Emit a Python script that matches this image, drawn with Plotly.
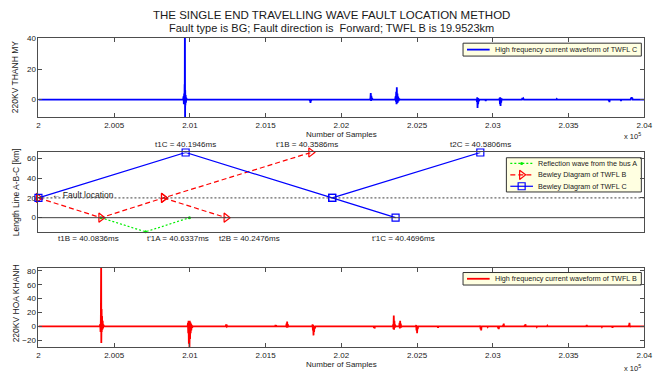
import numpy as np
import plotly.graph_objects as go

# ---------------- data ----------------
# High frequency current at TWFL C (220KV THANH MY): sample index and amplitude
twfl_c_samples = [
    200000, 200955, 200958, 200960, 200962, 200964, 200965, 200966, 200967, 200968,
    200969, 200970, 200972, 200974, 200976, 200980,
    201790, 201792, 201794, 201796, 201798, 201800, 201803,
    202190, 202192, 202194, 202196, 202198, 202200, 202203, 202206,
    202355, 202358, 202360, 202362, 202364, 202366, 202368, 202370, 202372, 202375,
    202378, 202382, 202386,
    202893, 202895, 202897, 202899, 202901, 202903, 202905, 202908, 202912,
    202950, 202953, 202956,
    203043, 203045, 203047, 203049, 203051, 203053, 203055, 203058, 203062,
    203192, 203195, 203198, 203201, 203205,
    203419, 203422, 203425,
    203764, 203766, 203768, 203770, 203772,
    203843, 203846, 203849,
    203910, 203912, 203914, 203916, 203918, 203920, 203924,
    204000,
]
twfl_c_current = [
    0, 0, 2, -3, 4, -2, 10, -2, 70, -20,
    6, -4, 3, -2, 1, 0,
    0, -1, 0.5, -2.2, 0.3, -1, 0,
    0, 1, 4.3, -1, 2.5, -0.5, 1, 0,
    0, 2, -1.5, 5, -3, 8, -2.5, 4, -2, 2,
    -1, 0.5, 0,
    0, -1.5, 1.5, -5.6, 1, -3, 0.5, -1, 0,
    0, -1, 0,
    0, 1, -3, 1.5, -4.3, 1, -2, 0.5, 0,
    0, 1, 0.5, 0.8, 0,
    0, 0.4, 0,
    0, -1, 0.3, -1.7, 0,
    0, -1, 0,
    0, 1, 0.3, 1.5, 0.5, 1.2, 0,
    0,
]

# High frequency current at TWFL B (220KV HOA KHANH)
twfl_b_samples = [
    200000, 200405, 200408, 200410, 200412, 200414, 200415, 200417, 200418, 200420,
    200422, 200424, 200426, 200429, 200433,
    200985, 200987, 200989, 200991, 200993, 200995, 200997, 200999, 201001, 201003,
    201005, 201007, 201009, 201012, 201015, 201018,
    201237, 201239, 201241, 201243, 201245, 201248,
    201563, 201565, 201567, 201569, 201572,
    201636, 201638, 201640, 201642, 201644, 201646, 201649,
    201808, 201810, 201812, 201814, 201816, 201818, 201820, 201822, 201825, 201829,
    202213, 202215, 202217, 202219, 202222,
    202340, 202342, 202344, 202346, 202348, 202350, 202352, 202355, 202359,
    202382, 202384, 202386, 202388, 202390, 202392, 202395, 202399,
    202492, 202494, 202496, 202498, 202500, 202502, 202504, 202507,
    202636, 202638, 202641,
    202915, 202917, 202919, 202921, 202923, 202925, 202928,
    202963, 202966, 202969,
    203033, 203035, 203037, 203039, 203042,
    203066, 203068, 203070, 203072, 203074, 203077,
    203209, 203211, 203213, 203215, 203218,
    203287, 203290, 203293,
    203357, 203360, 203363,
    203617, 203620, 203623,
    203717, 203720, 203723,
    203787, 203790, 203793,
    203896, 203898, 203900, 203902, 203904, 203906, 203909,
    204000,
]
twfl_b_current = [
    0, 0, 3, -8, 10, 95, -24, 25, -8, 15,
    -5, 8, -3, 2, 0,
    0, 5, -10, 8, -25, 7, -32, 8, -18, 6,
    -10, 4, -6, 2, -2, 0,
    0, 3, -1, 2.5, -0.5, 0,
    0, 2, -1, 1.5, 0,
    0, 4, -2, 7, -2, 3, 0,
    0, 3, -6, 2, -13, 1, -8, 1, -3, 0,
    0, -2, 0.5, -3, 0,
    0, 3, -4, 15.5, -5, 8, -2, 2, 0,
    0, 5, -3, 8, -2, 4, -1, 0,
    0, 2, -6, 1, -10, 0.5, -4, 0,
    0, -2, 0,
    0, 1, -4, 0.5, -6, -1, 0,
    0, -1, 0,
    0, -3, 0.5, -4, 0,
    0, 2, -1, 4, 0.5, 0,
    0, 2, -1, 3, 0,
    0, -1, 0,
    0, 1, 0,
    0, 2, 0,
    0, -1, 0,
    0, -2, 0,
    0, 2, -1, 5, 0.5, -1, 0,
    0,
]

# Bewley lattice (time in ms, distance along line A-B-C in km)
fault_km = 19.9523
bus_c_km = 65.8
bus_a_km = -14.3
t_fault = 40.0018
t1B, t1C, t2B = 40.0836, 40.1946, 40.2476
t1B_p, t1C_p, t2C = 40.3586, 40.4696, 40.5806
t1A_p = 40.6337
tB_back = 40.1656      # B reflection returning to the fault point
tC_back = 40.3866      # C reflection passing the fault point
tA_bus = 40.1421       # wave reaching bus A
tA_back = 40.1996      # reflected wave back at bus B
t_end = 40.7954

bewley_c_t = [t_fault, t1C, tC_back, t1C_p, None, tC_back, t2C]
bewley_c_d = [fault_km, bus_c_km, fault_km, 0, None, fault_km, bus_c_km]
bewley_b_t = [t_fault, t1B, tB_back, t1B_p, None, tB_back, t2B]
bewley_b_d = [fault_km, 0, fault_km, bus_c_km, None, fault_km, 0]
reflect_a_t = [t1B, tA_bus, tA_back]
reflect_a_d = [0, bus_a_km, 0]

x_tick_vals = [2, 2.005, 2.01, 2.015, 2.02, 2.025, 2.03, 2.035, 2.04]
x_tick_text = ["2", "2.005", "2.01", "2.015", "2.02", "2.025", "2.03", "2.035", "2.04"]

# ---------------- figure ----------------
W, H = 672, 374
FONT = "Liberation Sans, Arial, sans-serif"
AX_COL = "#4d4d4d"
TXT_COL = "#1a1a1a"
LEG_BG = "#ffffe1"

def px_x(p):
    return p / W

def px_y(p):
    return 1 - p / H

# line / marker styles shared by plot traces and their legend keys
STY_C_WAVE = dict(line=dict(color="#0000ff", width=1.8, simplify=False))
STY_B_WAVE = dict(line=dict(color="#ff0000", width=1.8, simplify=False))
STY_A = dict(line=dict(color="#00ee00", width=1.2, dash="2px,2px"),
             marker=dict(symbol="circle", size=3, color="#00ee00"))
STY_B = dict(line=dict(color="#ff0000", width=1.2, dash="5px,3px"),
             marker=dict(symbol="triangle-right-open", size=8, color="#ff0000",
                         line=dict(width=1.2)))
STY_C = dict(line=dict(color="#0000ff", width=1.2),
             marker=dict(symbol="square-open", size=7, color="#0000ff",
                         line=dict(width=1.2)))

fig = go.Figure()

fig.add_trace(go.Scatter(
    x=np.array(twfl_c_samples) / 1e5, y=twfl_c_current, mode="lines",
    name="High frequency current waveform of TWFL C", xaxis="x", yaxis="y",
    **STY_C_WAVE))

fig.add_trace(go.Scatter(x=reflect_a_t, y=reflect_a_d, mode="lines+markers",
                         name="Reflection wave from the bus A", cliponaxis=False,
                         xaxis="x2", yaxis="y2", **STY_A))
fig.add_trace(go.Scatter(x=bewley_b_t, y=bewley_b_d, mode="lines+markers",
                         name="Bewley Diagram of TWFL B", cliponaxis=False,
                         xaxis="x2", yaxis="y2", **STY_B))
fig.add_trace(go.Scatter(x=bewley_c_t, y=bewley_c_d, mode="lines+markers",
                         name="Bewley Diagram of TWFL C", cliponaxis=False,
                         xaxis="x2", yaxis="y2", **STY_C))

fig.add_trace(go.Scatter(
    x=np.array(twfl_b_samples) / 1e5, y=twfl_b_current, mode="lines",
    name="High frequency current waveform of TWFL B", xaxis="x3", yaxis="y3",
    **STY_B_WAVE))

# ---- legend boxes (MATLAB style): key traces on a full-figure pixel axis ----
legends = [
    # (box left, top, right, bottom), entries [(label, style, has_marker)]
    ((468, 40.5, 649, 53.5), [("High frequency current waveform of TWFL C", STY_C_WAVE, False)]),
    ((512, 156, 649, 190.5), [("Reflection wave from the bus A", STY_A, True),
                              ("Bewley Diagram of TWFL B", STY_B, True),
                              ("Bewley Diagram of TWFL C", STY_C, True)]),
    ((468, 271.7, 649, 284.3), [("High frequency current waveform of TWFL B", STY_B_WAVE, False)]),
]

shapes = []
ann = []

def text(x, y, s, size=8, xref="paper", yref="paper", xanchor="center",
         yanchor="middle", angle=0, xshift=0, yshift=0):
    ann.append(dict(x=x, y=y, text=s, xref=xref, yref=yref, showarrow=False,
                    xanchor=xanchor, yanchor=yanchor, textangle=angle,
                    xshift=xshift, yshift=yshift,
                    font=dict(family=FONT, size=size, color=TXT_COL)))

for (x0, y0, x1, y1), entries in legends:
    shapes.append(dict(type="rect", xref="paper", yref="paper",
                       x0=px_x(x0), x1=px_x(x1), y0=px_y(y1), y1=px_y(y0),
                       fillcolor=LEG_BG, line=dict(color="#333333", width=1),
                       layer="below"))
    n = len(entries)
    row_h = (y1 - y0) / n
    for i, (label, sty, has_marker) in enumerate(entries):
        yc = y0 + row_h * (i + 0.5)
        kx0, kx1 = x0 + 4, x0 + 27
        line_sty = dict(sty["line"])
        line_sty.pop("simplify", None)
        fig.add_trace(go.Scatter(x=[kx0, kx1], y=[yc, yc], mode="lines",
                                 line=line_sty, showlegend=False, hoverinfo="skip",
                                 xaxis="x4", yaxis="y4"))
        if has_marker:
            fig.add_trace(go.Scatter(x=[(kx0 + kx1) / 2], y=[yc], mode="markers",
                                     marker=sty["marker"], showlegend=False,
                                     hoverinfo="skip", xaxis="x4", yaxis="y4"))
        text(px_x(kx1 + 3), px_y(yc), label, size=7.2, xanchor="left")

xdom = [px_x(37), px_x(652)]
common_axis = dict(showline=True, linecolor=AX_COL, linewidth=1, mirror="ticks",
                   ticks="inside", ticklen=4, tickcolor=AX_COL, showgrid=False,
                   zeroline=False, tickfont=dict(family=FONT, size=8, color=TXT_COL))

fig.update_layout(
    width=W, height=H, margin=dict(l=0, r=0, t=0, b=0),
    paper_bgcolor="white", plot_bgcolor="rgba(0,0,0,0)",
    font=dict(family=FONT, color=TXT_COL),
    showlegend=False,
    xaxis=dict(domain=xdom, range=[2, 2.04], anchor="y",
               tickvals=x_tick_vals, ticktext=x_tick_text, **common_axis),
    yaxis=dict(domain=[px_y(115), px_y(35)], range=[-11.5, 40.5], anchor="x",
               tickvals=[0, 20, 40], **common_axis),
    xaxis2=dict(domain=xdom, range=[t_fault, t_end], anchor="y2",
                showline=True, linecolor=AX_COL, mirror=True, ticks="",
                showticklabels=False, showgrid=False, zeroline=False),
    yaxis2=dict(domain=[px_y(230.7), px_y(150.7)], range=[bus_a_km, bus_c_km],
                anchor="x2", tickvals=[0, 20, 40, 60], **common_axis),
    xaxis3=dict(domain=xdom, range=[2, 2.04], anchor="y3",
                tickvals=x_tick_vals, ticktext=x_tick_text, **common_axis),
    yaxis3=dict(domain=[px_y(346.7), px_y(266.7)], range=[-29.6, 84.7], anchor="x3",
                tickvals=[-20, 0, 20, 40, 60, 80], **common_axis),
    xaxis4=dict(domain=[0, 1], range=[0, W], anchor="y4", visible=False,
                fixedrange=True),
    yaxis4=dict(domain=[0, 1], range=[H, 0], anchor="x4", visible=False,
                fixedrange=True),
)

# reference lines of the lattice: bus B and the fault point
shapes.append(dict(type="line", xref="x2 domain", yref="y2", x0=0, x1=1, y0=0, y1=0,
                   line=dict(color="#404040", width=1)))
shapes.append(dict(type="line", xref="x2 domain", yref="y2", x0=0, x1=1,
                   y0=fault_km, y1=fault_km,
                   line=dict(color="#404040", width=1, dash="2px,2px")))

# titles
text(px_x(334), px_y(12.5), "THE SINGLE END TRAVELLING WAVE FAULT LOCATION METHOD", size=11.5)
text(px_x(334), px_y(25.5),
     "Fault type is BG; Fault direction is&nbsp; Forward; TWFL B is %.4fkm" % fault_km,
     size=11)

# axis titles
text(px_x(14), px_y(75), "220KV THANH MY", size=8.5, angle=-90)
text(px_x(15), px_y(191), "Length Line A-B-C [km]", size=8.5, angle=-90)
text(px_x(14), px_y(303), "220KV HOA KHANH", size=8.5, angle=-90)
text(px_x(345), px_y(132.5), "Number of Samples", size=8)
text(px_x(345), px_y(364), "Number of Samples", size=8)
text(px_x(640), px_y(134.5), "x 10<sup>5</sup>", size=7.5)
text(px_x(640), px_y(368), "x 10<sup>5</sup>", size=7.5)

# lattice time labels
top_labels = [(t1C, "t1C = %.4fms" % t1C, 0), (t1B_p, "t'1B = %.4fms" % t1B_p, -4),
              (t2C, "t2C = %.4fms" % t2C, 0)]
for t, s, dx in top_labels:
    text(t, 1, s, size=8, xref="x2", yref="y2 domain", yanchor="bottom",
         xshift=dx, yshift=1)
bottom_labels = [(t1B, "t1B = %.4fms" % t1B, -12), (tA_back, "t'1A = %.4fms" % t1A_p, -11),
                 (t2B, "t2B = %.4fms" % t2B, 23), (t1C_p, "t'1C = %.4fms" % t1C_p, 8)]
for t, s, dx in bottom_labels:
    text(t, 0, s, size=8, xref="x2", yref="y2 domain", yanchor="top",
         xshift=dx, yshift=0)

text(t_fault, fault_km, "\u2190 Fault location", size=8.5, xref="x2", yref="y2",
     xanchor="left", xshift=12, yshift=3)

fig.update_layout(annotations=ann, shapes=shapes)
fig.write_html("out.html")
